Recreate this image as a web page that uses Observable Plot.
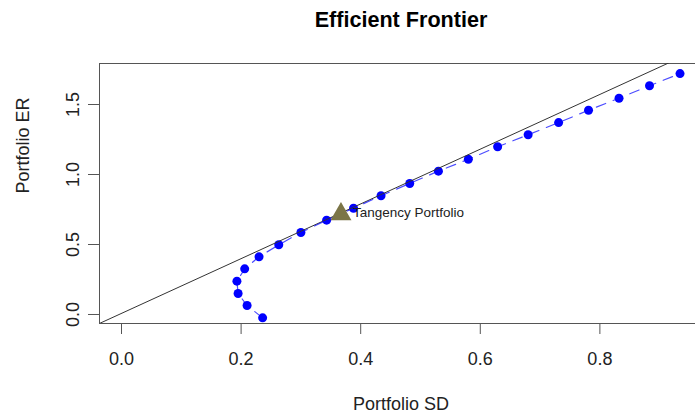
<!DOCTYPE html>
<html>
<head>
<meta charset="utf-8">
<script src="https://cdn.jsdelivr.net/npm/d3@7"></script>
<script src="https://cdn.jsdelivr.net/npm/@observablehq/plot@0.6"></script>
<style>
  html, body { margin: 0; padding: 0; background: #fff; overflow: hidden; }
  #chart svg { display: block; overflow: hidden; }
</style>
</head>
<body>
<div id="chart"></div>
<script>
// ---- data ----
const portfolioSD = [0.236, 0.210, 0.195, 0.193, 0.206, 0.230, 0.263, 0.300, 0.343, 0.388, 0.434,
                     0.482, 0.530, 0.580, 0.629, 0.680, 0.731, 0.781, 0.832, 0.883, 0.934];
const portfolioER = [-0.024, 0.064, 0.150, 0.238, 0.326, 0.412, 0.498, 0.586, 0.674, 0.759, 0.848,
                     0.936, 1.024, 1.109, 1.198, 1.284, 1.371, 1.459, 1.545, 1.634, 1.721];
const tangencySD = [0.367];
const tangencyER = [0.717];
const tangencyLabel = ["Tangency Portfolio"];
const riskFree = 0.008;      // intercept of the capital market line
const cmlSlope = 1.955;      // Sharpe slope of the capital market line
const xTicks = [0, 0.2, 0.4, 0.6, 0.8];
const yTicks = [0, 0.5, 1.0, 1.5];
const titleText = "Efficient Frontier";
const xLabel = "Portfolio SD";
const yLabel = "Portfolio ER";

// ---- derived tables ----
const frontier = portfolioSD.map((sd, i) => ({sd, er: portfolioER[i]}));
const tangency = tangencySD.map((sd, i) => ({sd, er: tangencyER[i], label: tangencyLabel[i]}));
const xDomain = [-0.0368, 0.9716];
const yDomain = [-0.0643, 1.7929];
const cml = xDomain.map(sd => ({sd, er: riskFree + cmlSlope * sd}));

const font = "'Liberation Sans', Arial, Helvetica, sans-serif";
const ink = "#222";

const chart = Plot.plot({
  width: 695,
  height: 414,
  marginLeft: 99,
  marginRight: -7,
  marginTop: 63,
  marginBottom: 91,
  style: {fontFamily: font, fontSize: "18px", color: ink, background: "#fff"},
  x: {domain: xDomain},
  y: {domain: yDomain},
  marks: [
    Plot.axisX({ticks: xTicks, tickFormat: d3.format(".1f"), tickSize: 11, tickPadding: 18,
                stroke: "#555", fill: ink, fontSize: 18, label: null}),
    Plot.axisY({ticks: yTicks, tickSize: 11, tickFormat: () => "", stroke: "#555", label: null}),
    Plot.text(yTicks, {y: d => d, text: d3.format(".1f"), frameAnchor: "left", rotate: -90,
                       dx: -21, lineAnchor: "bottom", textAnchor: "middle", fontSize: 18, fill: ink}),
    Plot.frame({stroke: "#555"}),
    Plot.dot(frontier, {x: "sd", y: "er", r: 4.5, fill: "blue"}),
    Plot.line(cml, {x: "sd", y: "er", stroke: "#333", strokeWidth: 1, clip: true}),
    Plot.line(frontier, {x: "sd", y: "er", stroke: "blue", strokeOpacity: 0.7, strokeWidth: 1.2,
                         strokeDasharray: "10,8"}),
    Plot.dot(tangency, {x: "sd", y: "er", symbol: "triangle2", r: 10, fill: "#7b7547"}),
    Plot.text(tangency, {x: "sd", y: "er", text: "label", textAnchor: "start", dx: 12, dy: -1,
                         fontSize: 13.5, fill: ink}),
    Plot.text([titleText], {frameAnchor: "top", dy: -36.3, lineAnchor: "bottom",
                            fontSize: 21.6, fontWeight: "bold", fill: "#000"}),
    Plot.text([xLabel], {frameAnchor: "bottom", dy: 86.5, lineAnchor: "bottom", fontSize: 18, fill: ink}),
    Plot.text([yLabel], {frameAnchor: "left", rotate: -90, dx: -71, lineAnchor: "bottom",
                         fontSize: 18, fill: ink})
  ]
});
document.getElementById("chart").appendChild(chart);
</script>
</body>
</html>
